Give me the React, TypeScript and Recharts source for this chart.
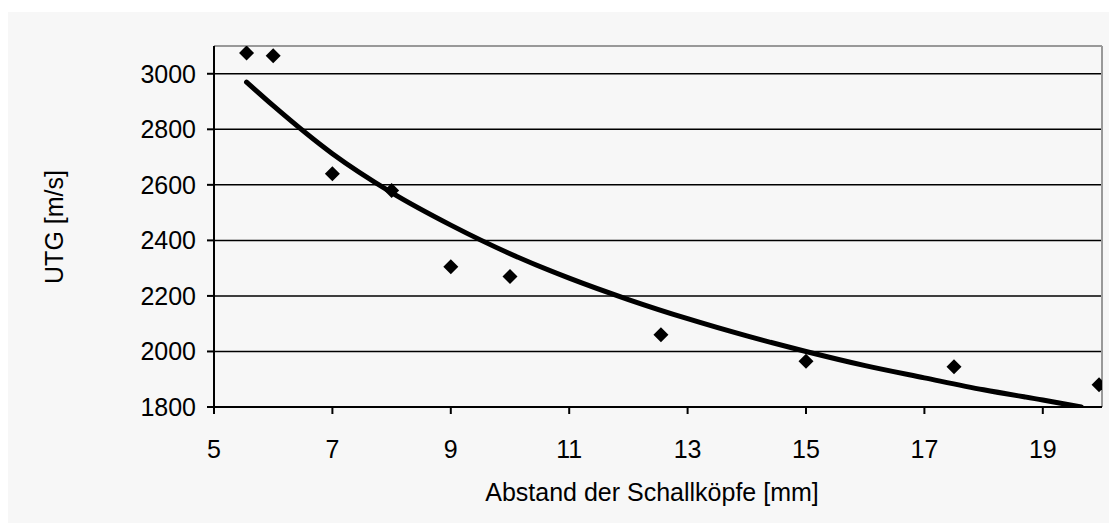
import {
  CartesianGrid,
  ComposedChart,
  Label,
  Line,
  ReferenceLine,
  Scatter,
  XAxis,
  YAxis,
} from 'recharts';

// Measured sound velocity against transducer spacing
const spacingMm = [5.55, 6, 7, 8, 9, 10, 12.55, 15, 17.5, 19.95];
const velocityMs = [3075, 3065, 2640, 2580, 2305, 2270, 2060, 1965, 1945, 1880];

// Trend curve through the measurements
const trendSpacingMm = [5.55, 6, 7, 8, 9, 10, 11, 12, 13, 14, 15, 16, 17, 18, 19, 19.65];
const trendVelocityMs = [2970, 2885, 2712, 2572, 2455, 2352, 2264, 2187, 2118, 2056, 2000, 1949, 1905, 1862, 1825, 1800];

const xTicks = [5, 7, 9, 11, 13, 15, 17, 19];
const yTicks = [1800, 2000, 2200, 2400, 2600, 2800, 3000];

const measured = spacingMm.map((x, i) => ({ x, y: velocityMs[i] }));
const trend = trendSpacingMm.map((x, i) => ({ x, y: trendVelocityMs[i] }));

const font = '"Liberation Sans", Arial, sans-serif';
const tickStyle = { fill: '#000', fontSize: 25, fontFamily: font };

function Diamond(props: any) {
  const { cx, cy } = props;
  const r = 7.5;
  return <path d={`M${cx},${cy - r}L${cx + r},${cy}L${cx},${cy + r}L${cx - r},${cy}Z`} fill="#000" />;
}

function YTitle(props: any) {
  const { viewBox } = props;
  const x = viewBox.x + 55;
  const y = 215;
  return (
    <text x={x} y={y} transform={`rotate(-90, ${x}, ${y})`} textAnchor="middle" fill="#000" fontSize={25} fontFamily={font}>
      UTG [m/s]
    </text>
  );
}

function XTitle(props: any) {
  const { viewBox } = props;
  return (
    <text x={viewBox.x + viewBox.width / 2 - 6} y={viewBox.y + 94} textAnchor="middle" fill="#000" fontSize={25} fontFamily={font}>
      Abstand der Schallköpfe [mm]
    </text>
  );
}

export default function App() {
  return (
    <div style={{ position: 'fixed', left: 8, top: 12, width: 1101, height: 511, background: '#f7f7f7', fontFamily: font }}>
      <ComposedChart width={1101} height={511} margin={{ top: 34, right: 7, bottom: 0, left: 0 }}>
        <CartesianGrid vertical={false} stroke="#000" strokeWidth={1.5} fill="none" />
        <XAxis
          dataKey="x"
          type="number"
          domain={[5, 20]}
          ticks={xTicks}
          interval={0}
          allowDataOverflow
          height={116}
          tick={tickStyle}
          tickSize={7}
          tickMargin={26}
          axisLine={{ stroke: '#000', strokeWidth: 2 }}
          tickLine={{ stroke: '#000', strokeWidth: 2 }}
        >
          <Label content={XTitle} />
        </XAxis>
        <YAxis
          dataKey="y"
          type="number"
          domain={[1800, 3100]}
          ticks={yTicks}
          interval={0}
          allowDataOverflow
          width={206}
          tick={tickStyle}
          tickSize={7}
          tickMargin={11}
          axisLine={{ stroke: '#000', strokeWidth: 2 }}
          tickLine={{ stroke: '#000', strokeWidth: 2 }}
        >
          <Label content={YTitle} />
        </YAxis>
        <ReferenceLine y={3100} stroke="#999" strokeWidth={2} />
        <ReferenceLine x={20} stroke="#999" strokeWidth={2} />
        <Line
          data={trend}
          dataKey="y"
          type="monotone"
          stroke="#000"
          strokeWidth={5}
          strokeLinecap="round"
          dot={false}
          activeDot={false}
          isAnimationActive={false}
        />
        <Scatter data={measured} dataKey="y" shape={Diamond} isAnimationActive={false} />
      </ComposedChart>
    </div>
  );
}
